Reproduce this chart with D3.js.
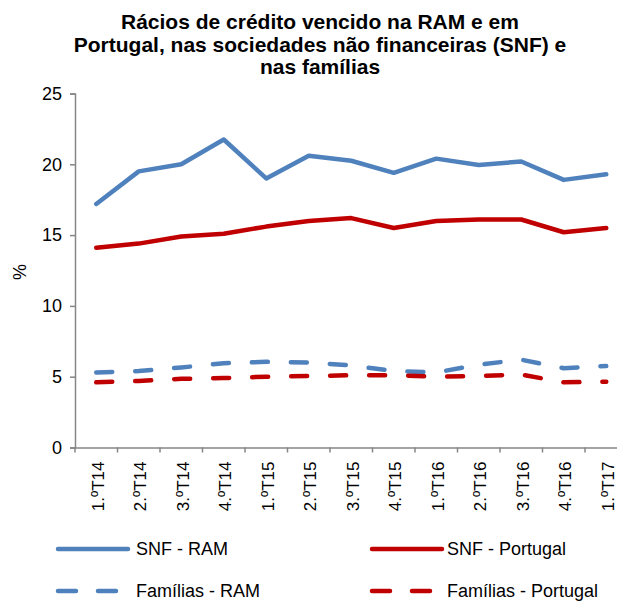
<!DOCTYPE html>
<html>
<head>
<meta charset="utf-8">
<script src="https://cdn.jsdelivr.net/npm/d3@7"></script>
<style>
  body { margin: 0; background: #fff; }
  svg { font-family: "Liberation Sans", Arial, sans-serif; }
</style>
</head>
<body>
<div id="chart"></div>
<script>
// Dados do gráfico
var categorias = ["1.ºT14", "2.ºT14", "3.ºT14", "4.ºT14", "1.ºT15", "2.ºT15", "3.ºT15",
                  "4.ºT15", "1.ºT16", "2.ºT16", "3.ºT16", "4.ºT16", "1.ºT17"];
var snfRam = [17.2, 19.5, 20.0, 21.75, 19.0, 20.6, 20.25, 19.4, 20.4, 19.95, 20.2, 18.9, 19.3];
var snfPortugal = [14.1, 14.4, 14.9, 15.1, 15.6, 16.0, 16.2, 15.5, 16.0, 16.1, 16.1, 15.2, 15.5];
var familiasRam = [5.3, 5.4, 5.65, 5.95, 6.05, 6.0, 5.8, 5.4, 5.3, 5.85, 6.2, 5.6, 5.75];
var familiasPortugal = [4.6, 4.7, 4.85, 4.9, 5.0, 5.05, 5.1, 5.1, 5.0, 5.05, 5.15, 4.6, 4.65];
var yTicks = [0, 5, 10, 15, 20, 25];
var titulo = ["Rácios de crédito vencido na RAM e em",
              "Portugal, nas sociedades não financeiras (SNF) e",
              "nas famílias"];

var series = [
    { nome: "SNF - RAM", valores: snfRam, cor: "#4F81BD", tracejado: null },
    { nome: "SNF - Portugal", valores: snfPortugal, cor: "#C00000", tracejado: null },
    { nome: "Famílias - RAM", valores: familiasRam, cor: "#4F81BD", tracejado: "16,23" },
    { nome: "Famílias - Portugal", valores: familiasPortugal, cor: "#C00000", tracejado: "16,23" }
];

var width = 617, height = 602;
var margin = { left: 75, top: 93.5, bottom: 447.5 };

var svg = d3.select("#chart").append("svg")
    .attr("width", width)
    .attr("height", height);

// Título
svg.append("g").selectAll("text")
    .data(titulo)
    .enter().append("text")
    .attr("x", 320)
    .attr("y", (d, i) => 29 + i * 22.5)
    .attr("text-anchor", "middle")
    .attr("font-size", "21px")
    .attr("font-weight", "bold")
    .attr("fill", "#000")
    .text(d => d);

// Escalas
var x = d3.scaleBand()
    .domain(categorias)
    .range([margin.left, margin.left + 42.5 * categorias.length]);

var y = d3.scaleLinear()
    .domain([0, 25])
    .range([margin.bottom, margin.top]);

// Eixo Y
var yAxis = svg.append("g")
    .attr("transform", "translate(" + margin.left + ",0)")
    .call(d3.axisLeft(y).tickValues(yTicks).tickSize(5).tickPadding(8));
yAxis.selectAll("text").attr("font-size", "18px").attr("fill", "#000").attr("font-family", null);
yAxis.selectAll("line, path").attr("stroke", "#868686").attr("stroke-width", 1.5);

// Eixo X
var xAxis = svg.append("g")
    .attr("transform", "translate(0," + margin.bottom + ")")
    .call(d3.axisBottom(x).tickSize(0).tickSizeOuter(0));
xAxis.select("path").attr("stroke", "#868686").attr("stroke-width", 1.5);
xAxis.selectAll("text")
    .attr("font-size", "17px")
    .attr("fill", "#000")
    .attr("font-family", null)
    .attr("text-anchor", "end")
    .attr("dy", null)
    .attr("transform", "rotate(-90)")
    .attr("x", -14)
    .attr("y", 3)
    .attr("dominant-baseline", "middle");

// Marcas do eixo X entre categorias
svg.append("g").selectAll("line")
    .data(categorias)
    .enter().append("line")
    .attr("x1", d => x(d))
    .attr("x2", d => x(d))
    .attr("y1", margin.bottom)
    .attr("y2", margin.bottom + 5)
    .attr("stroke", "#868686")
    .attr("stroke-width", 1.5);

// Rótulo do eixo Y
svg.append("text")
    .attr("transform", "translate(26,272) rotate(-90)")
    .attr("text-anchor", "middle")
    .attr("font-size", "18px")
    .text("%");

// Linhas
var linha = d3.line()
    .x((d, i) => x(categorias[i]) + x.bandwidth() / 2)
    .y(d => y(d));

var ordem = [series[2], series[3], series[0], series[1]];
svg.append("g").selectAll("path")
    .data(ordem)
    .enter().append("path")
    .attr("d", d => linha(d.valores))
    .attr("fill", "none")
    .attr("stroke", d => d.cor)
    .attr("stroke-width", 4.5)
    .attr("stroke-linecap", "round")
    .attr("stroke-linejoin", "round")
    .attr("stroke-dasharray", d => d.tracejado);

// Legenda
var legenda = svg.append("g").selectAll("g")
    .data(series)
    .enter().append("g")
    .attr("transform", (d, i) => "translate(" + (i % 2 === 0 ? 58 : 372) + "," + (i < 2 ? 549 : 591) + ")");

legenda.append("line")
    .attr("x1", 0)
    .attr("x2", 70)
    .attr("stroke", d => d.cor)
    .attr("stroke-width", 4.5)
    .attr("stroke-linecap", "round")
    .attr("stroke-dasharray", d => d.tracejado ? "18,22" : null);

legenda.append("text")
    .attr("x", (d, i) => i % 2 === 0 ? 78 : 75)
    .attr("y", 0)
    .attr("dy", "0.35em")
    .attr("font-size", "18px")
    .text(d => d.nome);
</script>
</body>
</html>
